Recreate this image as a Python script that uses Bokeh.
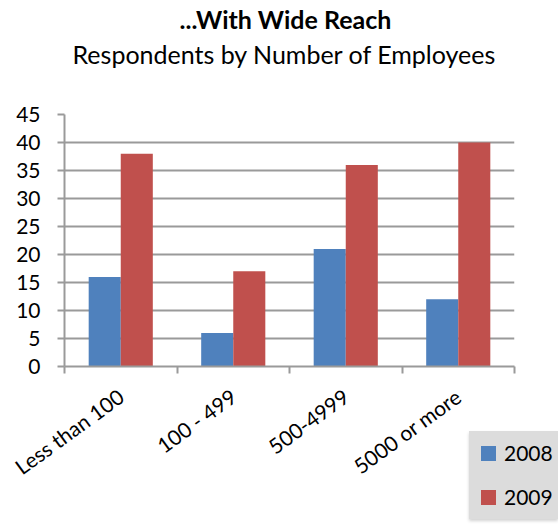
from bokeh.plotting import figure
from bokeh.layouts import column
from bokeh.models import (ColumnDataSource, FixedTicker, Title, Range1d, Div)
from bokeh.transform import dodge
from bokeh.embed import file_html
from bokeh.resources import INLINE

categories = ["Less than 100", "100 - 499", "500-4999", "5000 or more"]
series_names = ["2008", "2009"]
values_2008 = [16, 6, 21, 12]
values_2009 = [38, 17, 36, 40]
y_ticks = [0, 5, 10, 15, 20, 25, 30, 35, 40, 45]
title_text = "...With Wide Reach"
subtitle_text = "Respondents by Number of Employees"

FONT = "Lato"
GRID = "#9a9a9a"
BLUE = "#4F81BD"
RED = "#C0504D"
LEGEND_BG = "#dcdcdc"
series_colors = [BLUE, RED]

centers = [i + 0.5 for i in range(len(categories))]
source = ColumnDataSource(dict(x=centers, cat=categories, v2008=values_2008, v2009=values_2009))

p = figure(width=558, height=527, output_backend="svg", toolbar_location=None,
           x_range=Range1d(0, len(categories)), y_range=Range1d(0, 45),
           min_border_left=64, min_border_right=44, min_border_top=0, min_border_bottom=161)
p.outline_line_color = None
p.background_fill_color = "white"
p.border_fill_color = "white"

bw = 0.285
r1 = p.vbar(x=dodge("x", -bw / 2, range=p.x_range), top="v2008", width=bw, source=source,
            fill_color=BLUE, line_color=None)
r2 = p.vbar(x=dodge("x", bw / 2, range=p.x_range), top="v2009", width=bw, source=source,
            fill_color=RED, line_color=None)

# x axis: labels at category centres, tick marks on category boundaries
xa = p.xaxis[0]
xa.ticker = FixedTicker(ticks=centers, minor_ticks=list(range(len(categories) + 1)))
xa.major_label_overrides = {c: lab for c, lab in zip(centers, categories)}
xa.major_tick_out = 0
xa.major_tick_in = 0
xa.minor_tick_out = 7
xa.minor_tick_in = 0
xa.minor_tick_line_color = GRID
xa.minor_tick_line_width = 2
xa.axis_line_color = GRID
xa.axis_line_width = 2
xa.major_label_orientation = 0.63
xa.major_label_text_font = FONT
xa.major_label_text_font_size = "21px"
xa.major_label_text_color = "black"
xa.major_label_standoff = 20

# y axis
ya = p.yaxis[0]
ya.ticker = FixedTicker(ticks=y_ticks)
ya.major_tick_out = 7
ya.major_tick_in = 0
ya.minor_tick_line_color = None
ya.major_tick_line_color = GRID
ya.major_tick_line_width = 2
ya.axis_line_color = GRID
ya.axis_line_width = 2
ya.major_label_text_font = FONT
ya.major_label_text_font_size = "21px"
ya.major_label_text_color = "black"
ya.major_label_standoff = 17

p.xgrid.grid_line_color = None
p.ygrid.ticker = FixedTicker(ticks=y_ticks)
p.ygrid.grid_line_color = GRID
p.ygrid.grid_line_width = 2

# titles (first added sits nearest the frame); a blank spacer keeps the gap above the frame
p.add_layout(Title(text=" ", text_font=FONT, text_font_size="1px", standoff=40), "above")
p.add_layout(Title(text=subtitle_text, align="left", offset=8, text_font=FONT,
                   text_font_size="25px", text_font_style="normal", text_color="black",
                   standoff=5), "above")
p.add_layout(Title(text=title_text, align="left", offset=115, text_font=FONT,
                   text_font_size="25px", text_font_style="bold", text_color="black",
                   standoff=2), "above")

# legend box overlapping the bottom-right corner, cut off by the page edge like the original
entries = "".join(
    f'<div style="display:flex;align-items:center;height:24px;margin-bottom:20px;">'
    f'<span style="display:inline-block;width:15px;height:15px;background:{col};'
    f'margin-left:12px;margin-right:8px;"></span>'
    f'<span style="font-family:Lato;font-size:21px;line-height:24px;color:black;'
    f'white-space:nowrap;">{name}</span></div>'
    for name, col in zip(series_names, series_colors))
legend_html = (f'<div style="width:89px;height:88px;box-sizing:border-box;padding-top:10px;'
               f'background:{LEGEND_BG};overflow:hidden;'
               f'box-shadow:0px 2px 3px rgba(0,0,0,0.18);">{entries}</div>')
legend_div = Div(text=legend_html, width=89, height=88, margin=(-96, 0, 0, 469))

layout = column(p, legend_div, spacing=0)
open("out.html", "w").write(file_html(layout, INLINE))
